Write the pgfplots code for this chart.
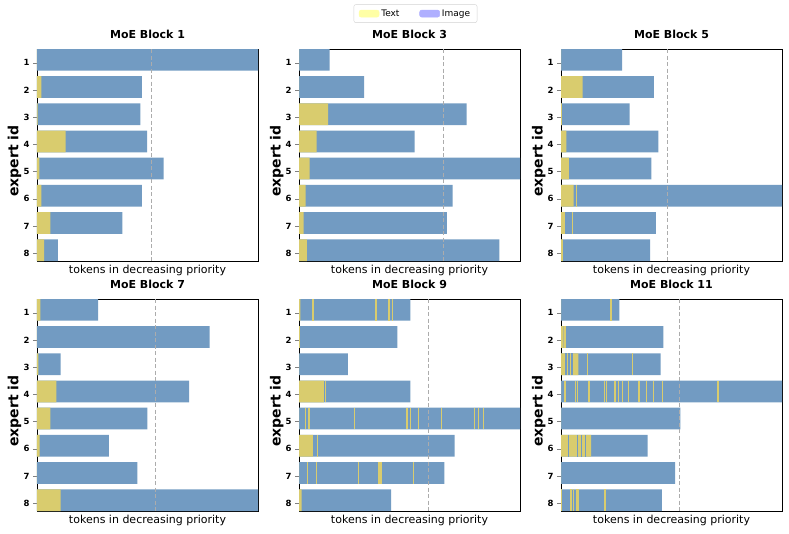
\documentclass[border=0pt]{standalone}
\usepackage{fontspec}
\setmainfont{DejaVu Sans}
\usepackage{pgfplots}
\pgfplotsset{compat=1.18}
\usepgfplotslibrary{groupplots}

\definecolor{bcol}{RGB}{114,155,194}
\definecolor{ycol}{RGB}{217,204,110}
\definecolor{legy}{RGB}{255,255,165}
\definecolor{legb}{RGB}{175,175,255}

\pgfplotsset{
  panel/.style={
    scale only axis, width=221pt, height=212pt,
    xmin=0, xmax=100, ymin=0.6, ymax=8.4, y dir=reverse,
    xtick=\empty,
    ytick={1.11,2.11,3.11,4.11,5.11,6.11,7.11,8.11},
    yticklabels={1,2,3,4,5,6,7,8},
    ytick pos=left, tick align=outside, major tick length=4pt,
    yticklabel style={font=\bfseries\fontsize{8.5}{9}\selectfont},
    title style={font=\bfseries\fontsize{11}{13}\selectfont, at={(0.5,1)}, anchor=base, yshift=5pt},
    xlabel style={font=\fontsize{11}{13}\selectfont, at={(0.5,0)}, anchor=base, yshift=-12pt},
    ylabel style={font=\bfseries\fontsize{14}{16}\selectfont, at={(0,0.472)}, anchor=base, yshift=18.5pt},
    xlabel={tokens in decreasing priority},
    ylabel={expert id},
  },
  bluebar/.style={xbar, bar width=0.8, bar shift=0pt, draw=none, fill=bcol, forget plot},
  yelbar/.style={xbar, bar width=0.8, bar shift=0pt, draw=none, fill=ycol, forget plot},
  ystripe/.style={only marks, mark=|, mark size=10.9pt, mark options={line width=1.2pt, draw=ycol}, forget plot},
  bstripe/.style={only marks, mark=|, mark size=10.9pt, mark options={line width=1.2pt, draw=bcol}, forget plot},
  cap/.style={forget plot, gray!65, line width=0.9pt, dash pattern=on 4pt off 2.5pt},
}

\begin{document}
\begin{tikzpicture}
\begin{groupplot}[group style={group size=3 by 2, horizontal sep=41pt, vertical sep=38pt}, panel]

% ---- MoE Block 1
\nextgroupplot[title={MoE Block 1}]
\addplot[bluebar] coordinates {(100,1) (47.4,2) (46.8,3) (49.8,4) (57.3,5) (47.4,6) (38.6,7) (9.4,8)};
\addplot[yelbar] coordinates {(0,1) (2,2) (0.3,3) (13,4) (1.1,5) (2,6) (6,7) (3.2,8)};
\addplot[cap] coordinates {(52.0,0.6) (52.0,8.4)};

% ---- MoE Block 3
\nextgroupplot[title={MoE Block 3},
  legend style={at={(0.527,1.167)}, anchor=center, legend columns=2,
    draw=gray!35, rounded corners=2pt, font=\fontsize{9}{10}\selectfont,
    inner xsep=5pt, inner ysep=3pt,
    /tikz/column 2/.style={column sep=18pt}},
  legend image code/.code={\fill[#1] (0pt,-3.5pt) rectangle (20pt,3.5pt);}]
\addlegendimage{legy}\addlegendentry{Text}
\addlegendimage{legb}\addlegendentry{Image}
\addplot[bluebar] coordinates {(13.8,1) (29.5,2) (75.9,3) (52.3,4) (100,5) (69.5,6) (66.9,7) (90.7,8)};
\addplot[yelbar] coordinates {(0,1) (0,2) (13.2,3) (8,4) (4.8,5) (3,6) (2.1,7) (3.6,8)};
\addplot[cap] coordinates {(65.4,0.6) (65.4,8.4)};

% ---- MoE Block 5
\nextgroupplot[title={MoE Block 5}]
\addplot[bluebar] coordinates {(27.6,1) (42,2) (31.1,3) (44.1,4) (40.9,5) (100,6) (42.9,7) (40.3,8)};
\addplot[yelbar] coordinates {(0,1) (9.8,2) (0.4,3) (2.4,4) (3.6,5) (5.7,6) (1.8,7) (0.9,8)};
\addplot[ystripe] coordinates {(6.9,6) (5.3,7)};
\addplot[cap] coordinates {(48.2,0.6) (48.2,8.4)};

% ---- MoE Block 7
\nextgroupplot[title={MoE Block 7}]
\addplot[bluebar] coordinates {(27.7,1) (78.1,2) (10.7,3) (68.8,4) (49.9,5) (32.5,6) (45.4,7) (100,8)};
\addplot[yelbar] coordinates {(1.5,1) (0,2) (0.6,3) (8.8,4) (6.1,5) (1.2,6) (0,7) (10.7,8)};
\addplot[cap] coordinates {(53.7,0.6) (53.7,8.4)};

% ---- MoE Block 9
\nextgroupplot[title={MoE Block 9}]
\addplot[bluebar] coordinates {(50.4,1) (44.5,2) (22.1,3) (50.4,4) (100,5) (70.4,6) (65.8,7) (41.7,8)};
\addplot[yelbar] coordinates {(0.6,1) (0.4,2) (0,3) (11.2,4) (0,5) (6.3,6) (0,7) (1.2,8)};
\addplot[ystripe] coordinates {
  (6.3,1) (34.8,1) (40.7,1) (42.2,1)
  (12.1,4)
  (2.9,5) (4.5,5) (25.2,5) (48.9,5) (50.4,5) (54.2,5) (64.4,5) (79.3,5) (81.3,5) (83.6,5)
  (8.4,6)
  (3.9,7) (7.8,7) (27.1,7) (36.2,7) (37.1,7) (51.7,7)};
\addplot[cap] coordinates {(58.4,0.6) (58.4,8.4)};

% ---- MoE Block 11
\nextgroupplot[title={MoE Block 11}]
\addplot[bluebar] coordinates {(26.4,1) (46.3,2) (45.1,3) (100,4) (54.0,5) (39.2,6) (51.6,7) (45.6,8)};
\addplot[yelbar] coordinates {(0,1) (1.2,2) (7.9,3) (0,4) (0,5) (13.6,6) (0,7) (0,8)};
\addplot[bstripe] coordinates {(2.3,3) (3.6,3) (5.0,3) (3.3,6) (7.4,6) (9.2,6) (11.2,6)};
\addplot[ystripe] coordinates {
  (22.6,1)
  (1.8,2)
  (12.1,3) (32.4,3)
  (1.8,4) (6.6,4) (7.5,4) (12.7,4) (19.8,4) (20.7,4) (24.4,4) (25.9,4) (27.7,4) (30.4,4) (35.3,4) (38.6,4) (41.8,4) (45.8,4) (71.0,4)
  (0.3,8) (4.5,8) (5.7,8) (7.1,8) (7.7,8) (19.9,8)};
\addplot[cap] coordinates {(53.8,0.6) (53.8,8.4)};
\end{groupplot}
\pgfresetboundingbox
\path ([shift={(-37pt,49pt)}]group c1r1.north west) rectangle ([shift={(752pt,-484pt)}]group c1r1.north west);
\end{tikzpicture}
\end{document}
